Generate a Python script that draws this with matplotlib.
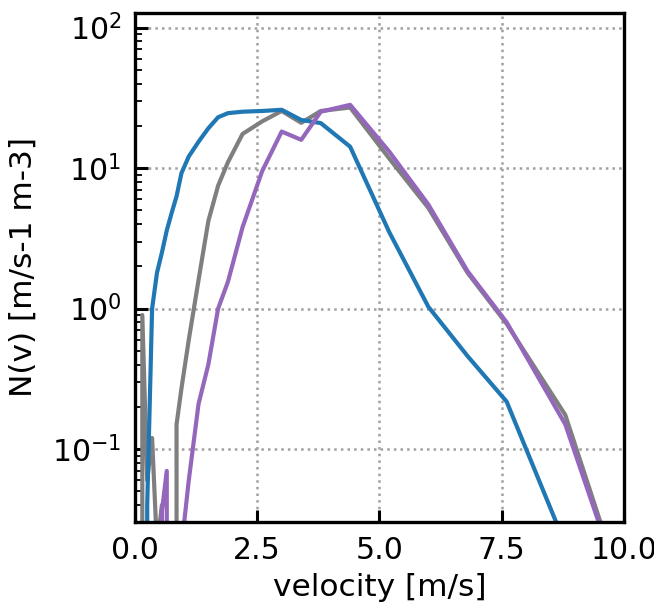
import matplotlib
matplotlib.use("Agg")
import matplotlib.pyplot as plt


# -----------------------------
# Data (velocity class centres)
# -----------------------------

OUTPUT_FILE = "out.png"

velocity = [
  0.05, 0.15, 0.25, 0.35, 0.45, 0.55, 0.65, 0.75, 0.85, 0.95,
  1.1, 1.3, 1.5, 1.7, 1.9, 2.2, 2.6, 3.0, 3.4, 3.8,
  4.4, 5.2, 6.0, 6.8, 7.6, 8.8, 10.4
]

n_blue = [
  0.0, 0.0, 0.04, 1.0, 1.8, 2.5, 3.6, 4.8, 6.3, 9.2,
  12.1, 15.4, 19.2, 23.0, 24.6, 25.2, 25.5, 26.0, 22.0, 20.9,
  14.2, 3.5, 1.03, 0.46, 0.218, 0.021, 0.0
]

n_gray = [
  0.0, 0.9, 0.06, 0.12, 0.02, 0.04, 0.0, 0.0, 0.15, 0.27,
  0.6, 1.6, 4.2, 7.5, 11.0, 17.5, 21.5, 25.5, 21.0, 25.5,
  27.0, 11.7, 5.2, 1.8, 0.78, 0.175, 0.0035
]

n_purple = [
  0.0, 0.0, 0.0, 0.0, 0.0, 0.036, 0.07, 0.0, 0.0, 0.02,
  0.06, 0.21, 0.4, 1.0, 1.55, 3.8, 9.5, 18.2, 15.9, 25.2,
  28.2, 13.1, 5.5, 1.85, 0.8, 0.15, 0.0035
]


# -----------------------------
# Plot
# -----------------------------

fig = plt.figure(figsize=(6.54, 6.16), dpi=100)
ax = fig.add_axes([0.2064, 0.1526, 0.7477, 0.8263])

ax.plot(velocity, n_gray, color="#7f7f7f", lw=3)
ax.plot(velocity, n_blue, color="#1f77b4", lw=3)
ax.plot(velocity, n_purple, color="#9467bd", lw=3)

ax.set_yscale("log")
ax.set_xlim(0, 10)
ax.set_ylim(0.0303, 127)
ax.set_xticks([0.0, 2.5, 5.0, 7.5, 10.0])

ax.grid(True, which="major", linestyle=":", color="#a0a0a0", lw=1.8)

ax.tick_params(which="major", direction="in", length=9, width=2.2,
               labelsize=21.5, pad=10)
ax.tick_params(which="minor", direction="in", length=5, width=1.3)
ax.tick_params(axis="x", which="minor", bottom=False)

for spine in ax.spines.values():
  spine.set_linewidth(2.4)

ax.set_xlabel("velocity [m/s]", fontsize=22.5, labelpad=6)
ax.set_ylabel("N(v) [m/s-1 m-3]", fontsize=22.5, labelpad=10)


# -----------------------------
# Save
# -----------------------------

fig.savefig(OUTPUT_FILE, dpi=100)
plt.close(fig)

print(f"Saved: {OUTPUT_FILE}")
